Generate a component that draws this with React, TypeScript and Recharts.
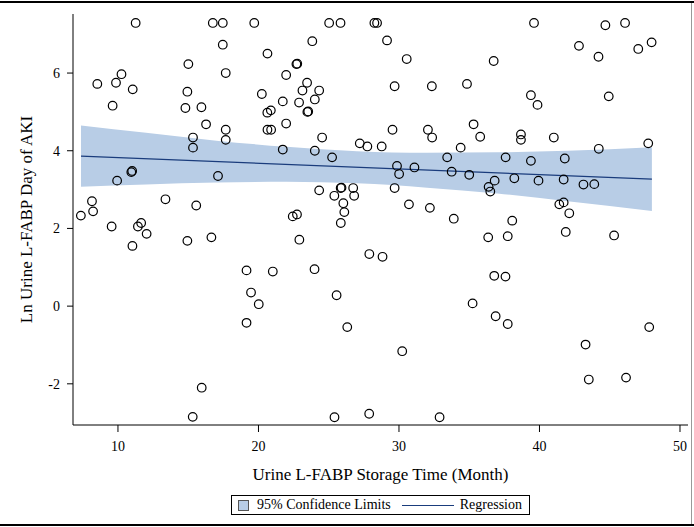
import React from "react";
import {
  Area,
  ComposedChart,
  Line,
  Scatter,
  XAxis,
  YAxis,
} from "recharts";

// storage time (months) vs ln urine L-FABP, one entry per sample
const storageMonths = [
  11.26, 16.75, 17.46, 19.7, 25.03, 25.84, 28.25, 28.44, 39.61, 46.09, 44.69,
  17.46, 20.64, 15.01, 17.67, 10.25, 8.53, 9.86, 11.05, 14.94, 20.24, 21.73,
  9.62, 14.8, 15.94, 20.63, 20.88, 16.27, 17.67, 20.64, 20.9, 15.34, 17.67,
  15.34, 21.73, 11.01, 10.95, 9.94, 17.12, 8.15, 13.38, 8.23, 15.57, 7.36,
  11.65, 9.55, 11.42, 12.04, 11.03, 14.94, 16.65, 19.15, 21.02, 19.47, 20.02,
  19.15, 15.96, 15.32,
  23.83, 29.15, 30.55, 22.7, 22.76, 21.97, 23.46, 23.13, 24.32, 29.69, 32.34,
  34.84, 22.89, 24.01, 23.48, 23.54, 21.97, 24.53, 29.54, 32.06, 32.36, 35.31,
  35.78, 27.21, 27.75, 28.77, 24.01, 25.24, 34.39, 33.43, 29.86, 30.01, 31.1,
  33.75, 35.0, 36.38, 36.5, 24.32, 25.4, 25.85, 25.91, 26.74, 26.81, 26.04,
  26.11, 29.69, 30.71, 32.2, 22.44, 22.74, 25.86, 33.9, 22.91, 27.89, 28.83,
  23.99, 25.56, 26.32, 30.23, 25.41, 27.88, 32.89,
  42.81, 44.2, 36.74, 47.03, 47.98, 39.39, 39.86, 44.93, 38.68, 38.68, 41.02,
  44.22, 47.74, 37.59, 39.39, 41.8, 36.81, 38.21, 39.93, 41.72, 43.13, 43.9,
  41.41, 41.72, 42.12, 38.06, 36.35, 37.74, 41.87, 45.31, 36.78, 37.58, 35.24,
  36.88, 37.74, 47.81, 43.28, 43.51, 46.16,
];

const lnFabp = [
  7.29, 7.29, 7.29, 7.29, 7.29, 7.29, 7.29, 7.29, 7.29, 7.29, 7.23,
  6.73, 6.5, 6.23, 6.0, 5.97, 5.72, 5.75, 5.58, 5.52, 5.46, 5.27,
  5.16, 5.1, 5.12, 4.98, 5.04, 4.68, 4.54, 4.54, 4.54, 4.34, 4.28,
  4.08, 4.03, 3.48, 3.45, 3.23, 3.35, 2.7, 2.75, 2.44, 2.59, 2.33,
  2.14, 2.05, 2.05, 1.86, 1.55, 1.68, 1.77, 0.92, 0.89, 0.35, 0.05,
  -0.43, -2.1, -2.85,
  6.82, 6.84, 6.36, 6.23, 6.24, 5.95, 5.75, 5.55, 5.55, 5.66, 5.66,
  5.72, 5.24, 5.32, 5.0, 5.01, 4.7, 4.34, 4.54, 4.54, 4.34, 4.68,
  4.36, 4.19, 4.11, 4.11, 4.0, 3.83, 4.08, 3.83, 3.61, 3.4, 3.57,
  3.46, 3.38, 3.07, 2.95, 2.98, 2.84, 3.04, 3.05, 3.04, 2.84, 2.65,
  2.42, 3.04, 2.62, 2.53, 2.31, 2.36, 2.14, 2.25, 1.71, 1.34, 1.27,
  0.95, 0.28, -0.54, -1.16, -2.86, -2.77, -2.86,
  6.7, 6.42, 6.31, 6.62, 6.79, 5.43, 5.18, 5.4, 4.42, 4.28, 4.34,
  4.05, 4.19, 3.83, 3.74, 3.8, 3.23, 3.29, 3.23, 3.26, 3.13, 3.14,
  2.62, 2.67, 2.39, 2.2, 1.77, 1.8, 1.91, 1.82, 0.78, 0.76, 0.07,
  -0.26, -0.46, -0.54, -0.99, -1.89, -1.84,
];

// fitted line and 95% confidence limits
const fitMonths = [7.37, 48.0];
const fitValues = [3.86, 3.27];

const bandMonths = [7.37, 12, 17, 22, 27, 32, 37, 42, 48];
const bandLower = [3.07, 3.13, 3.18, 3.2, 3.16, 3.05, 2.9, 2.7, 2.45];
const bandUpper = [4.65, 4.46, 4.26, 4.1, 3.99, 3.95, 3.96, 4.0, 4.09];

const xTicks = [10, 20, 30, 40, 50];
const yTicks = [-2, 0, 2, 4, 6];
const xDomain = [6.8, 50.57];
const yDomain = [-3.06, 7.52];

const BAND = "#b8cde6";
const NAVY = "#1a3c7c";
const FONT = "Liberation Serif";

const points = storageMonths.map((x, i) => ({ x, y: lnFabp[i] }));
const fitRows = fitMonths.map((x, i) => ({ x, fit: fitValues[i] }));
const bandRows = bandMonths.map((x, i) => ({ x, band: [bandLower[i], bandUpper[i]] }));

function OpenCircle(props: any) {
  const { cx, cy } = props;
  return <circle cx={cx} cy={cy} r={4.3} fill="none" stroke="#000" strokeWidth={1.2} />;
}

function XTick(props: any) {
  const { x, y, payload } = props;
  return (
    <text x={x} y={y} dy={11} textAnchor="middle" fontSize={14} fontFamily={FONT} fill="#000">
      {payload.value}
    </text>
  );
}

function YTick(props: any) {
  const { x, y, payload } = props;
  return (
    <text x={x} y={y} dy={5} textAnchor="end" fontSize={14} fontFamily={FONT} fill="#000">
      {payload.value}
    </text>
  );
}

function YTitle(props: any) {
  const vb = props.viewBox;
  const x = vb.x + 32;
  const y = vb.y + vb.height / 2;
  return (
    <text
      x={x}
      y={y}
      transform={`rotate(-90 ${x} ${y})`}
      textAnchor="middle"
      fontSize={17}
      fontFamily={FONT}
      fill="#000"
    >
      Ln Urine L-FABP Day of AKI
    </text>
  );
}

function LegendBox() {
  return (
    <div
      style={{
        position: "absolute",
        left: 231,
        top: 495,
        width: 297,
        height: 18,
        border: "1px solid #000",
        display: "flex",
        alignItems: "center",
        fontFamily: FONT,
        fontSize: 14,
        color: "#000",
        whiteSpace: "nowrap",
        background: "#fff",
      }}
    >
      <span
        style={{
          display: "inline-block",
          width: 9,
          height: 9,
          background: BAND,
          border: "1px solid #555",
          marginLeft: 6,
          marginRight: 8,
        }}
      />
      <span>95% Confidence Limits</span>
      <span
        style={{
          display: "inline-block",
          width: 52,
          height: 0,
          borderTop: `1px solid ${NAVY}`,
          marginLeft: 11,
          marginRight: 6,
        }}
      />
      <span>Regression</span>
    </div>
  );
}

export default function App() {
  return (
    <div style={{ position: "absolute", left: 0, top: 0, width: 694, height: 527, background: "#fff" }}>
      <div style={{ position: "absolute", left: 0, top: 1, width: 694, height: 2, background: "#000" }} />
      <div style={{ position: "absolute", left: 0, top: 524, width: 694, height: 2, background: "#000" }} />
      <div style={{ position: "absolute", left: 691, top: 3, width: 1, height: 521, background: "#999" }} />
      <ComposedChart
        width={694}
        height={527}
        margin={{ top: 14, right: 6, bottom: 42, left: 0 }}
      >
        <XAxis
          xAxisId="main"
          type="number"
          dataKey="x"
          domain={xDomain}
          ticks={xTicks}
          allowDataOverflow
          height={60}
          tickSize={7}
          tickMargin={8}
          tick={XTick}
          axisLine={{ stroke: "#000" }}
          tickLine={{ stroke: "#000" }}
          label={{
            value: "Urine L-FABP Storage Time (Month)",
            position: "insideBottom",
            offset: 5,
            fontSize: 17,
            fontFamily: FONT,
            fill: "#000",
          }}
        />
        <XAxis
          xAxisId="frame"
          orientation="top"
          type="number"
          domain={xDomain}
          height={0}
          tick={false}
          tickLine={false}
          axisLine={{ stroke: "#000" }}
        />
        <YAxis
          yAxisId="main"
          type="number"
          domain={yDomain}
          ticks={yTicks}
          allowDataOverflow
          width={73}
          tickSize={6}
          tickMargin={7}
          tick={YTick}
          axisLine={{ stroke: "#000" }}
          tickLine={{ stroke: "#000" }}
          label={{ content: YTitle }}
        />
        <YAxis
          yAxisId="frame"
          orientation="right"
          type="number"
          domain={yDomain}
          width={0}
          tick={false}
          tickLine={false}
          axisLine={{ stroke: "#444" }}
        />
        <Area
          xAxisId="main"
          yAxisId="main"
          data={bandRows}
          dataKey="band"
          type="monotone"
          stroke="none"
          fill={BAND}
          fillOpacity={1}
          isAnimationActive={false}
        />
        <Line
          xAxisId="main"
          yAxisId="main"
          data={fitRows}
          dataKey="fit"
          type="linear"
          stroke={NAVY}
          strokeWidth={1.3}
          dot={false}
          isAnimationActive={false}
        />
        <Scatter
          xAxisId="main"
          yAxisId="main"
          data={points}
          dataKey="y"
          shape={OpenCircle}
          isAnimationActive={false}
        />
      </ComposedChart>
      <LegendBox />
    </div>
  );
}
